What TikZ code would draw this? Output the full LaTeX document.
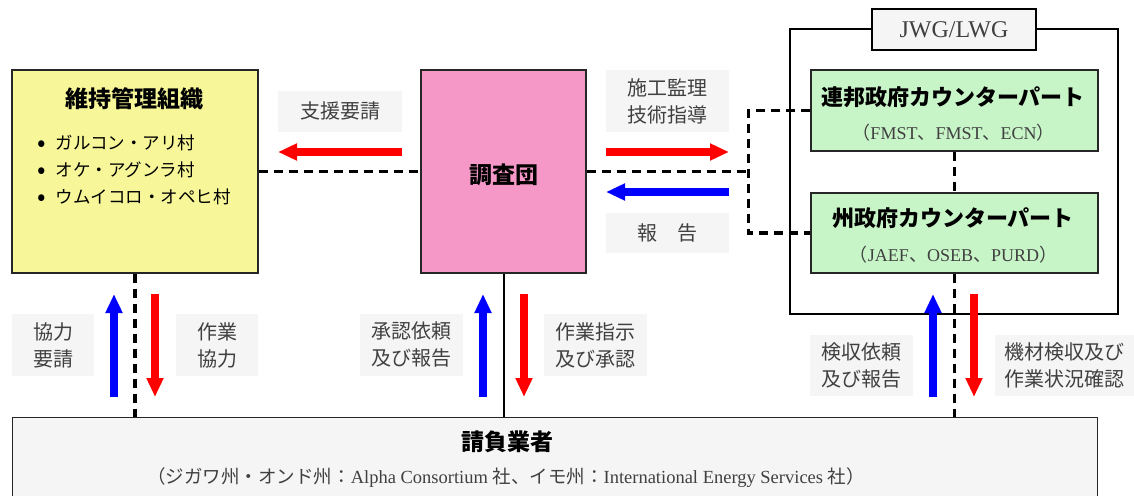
\documentclass[tikz,border=0pt]{standalone}
\usepackage{fontspec}
\setmainfont{Liberation Serif}
\newfontfamily\jp{Noto Sans CJK JP}
\usetikzlibrary{arrows.meta}
\definecolor{yel}{RGB}{247,247,153}
\definecolor{pnk}{RGB}{245,152,200}
\definecolor{grn}{RGB}{200,245,200}
\definecolor{lbl}{RGB}{245,245,245}
\definecolor{txtg}{RGB}{64,64,64}
\newcommand{\bul}{\raisebox{-1.5pt}{\fontsize{25}{25}\selectfont\textbullet}}
\tikzset{
  box/.style={draw=black!85, line width=1.3pt, inner sep=0pt},
  lblbox/.style={fill=lbl, inner sep=0pt, text=txtg, align=center,
    font=\jp\fontsize{20}{27}\selectfont},
  ttl/.style={inner sep=0pt, font=\jp\bfseries\fontsize{23}{27}\selectfont},
  sub/.style={inner sep=0pt, text=txtg, font=\fontsize{18.5}{22}\selectfont},
  item/.style={inner sep=0pt, anchor=west, font=\jp\fontsize{17.5}{20}\selectfont},
  dline/.style={line width=3.5pt, dash pattern=on 9pt off 6pt},
  sline/.style={line width=2pt},
  redarr/.style={draw=red, line width=8pt, -{Triangle[length=19pt,width=16pt]}},
  bluearr/.style={draw=blue, line width=8pt, -{Triangle[length=19pt,width=16pt]}},
}
\begin{document}
\begin{tikzpicture}[x=1pt,y=-1pt]
\useasboundingbox (0,0) rectangle (1134,495);
\fill[white] (0,0) rectangle (1134,495);
\clip (0,0) rectangle (1134,495);

% main boxes
\node[box, fill=yel, minimum width=246pt, minimum height=203pt] (ym) at (135,171.5) {};
\node[ttl] (ytitle) at (134,99) {維持管理組織};
\node[item] (i1) at (37,143) {\bul\hspace{10pt}ガルコン・アリ村};
\node[item] (i2) at (37,170) {\bul\hspace{10pt}オケ・アグンラ村};
\node[item] (i3) at (37,197) {\bul\hspace{10pt}ウムイコロ・オペヒ村};

\node[box, fill=pnk, minimum width=165pt, minimum height=203pt] (ch) at (503.5,171.5) {};
\node[ttl] (chtitle) at (503.5,175) {調査団};

% JWG
\node[draw=black, line width=1.2pt, minimum width=328pt, minimum height=285pt, inner sep=0pt] (jwg) at (954,171.5) {};
\node[draw=black, line width=1.2pt, fill=lbl, minimum width=164pt, minimum height=41pt, inner sep=0pt, text=txtg, font=\fontsize{24}{27}\selectfont] (jwgl) at (954,29.5) {JWG/LWG};

\node[box, fill=grn, minimum width=287pt, minimum height=81pt] (gt) at (954.5,110.5) {};
\node[ttl, font=\jp\bfseries\fontsize{22}{26}\selectfont] (gttitle) at (953,97) {連邦政府カウンターパート};
\node[sub, font=\fontsize{18}{22}\selectfont] (gtsub) at (953.5,133) {{\jp （}FMST{\jp 、}FMST{\jp 、}ECN{\jp ）}};

\node[box, fill=grn, minimum width=287pt, minimum height=80pt] (gb) at (954.5,233) {};
\node[ttl, font=\jp\bfseries\fontsize{22}{26}\selectfont] (gbtitle) at (953,218) {州政府カウンターパート};
\node[sub, font=\fontsize{18}{22}\selectfont] (gbsub) at (953.5,255) {{\jp （}JAEF{\jp 、}OSEB{\jp 、}PURD{\jp ）}};

% contractor
\node[box, fill=lbl, minimum width=1085pt, minimum height=90pt, anchor=north west] (ct) at (12,417) {};
\node[ttl] (cttitle) at (507,442) {請負業者};
\node[sub] (ctsub) at (506,478) {{\jp （ジガワ州・オンド州：}Alpha Consortium {\jp 社、イモ州：}International Energy Services {\jp 社）}};

% labels
\node[lblbox, minimum width=124pt, minimum height=41pt] (l1) at (340,111) {支援要請};
\node[lblbox, minimum width=123pt, minimum height=62pt] (l2) at (667.5,101) {施工監理\\技術指導};
\node[lblbox, minimum width=123pt, minimum height=40pt] (l3) at (667.5,233) {報\hspace{20pt}告};
\node[lblbox, minimum width=82pt, minimum height=62pt] (l4) at (53,345) {協力\\要請};
\node[lblbox, minimum width=82pt, minimum height=62pt] (l5) at (217,345) {作業\\協力};
\node[lblbox, minimum width=103pt, minimum height=62pt] (l6) at (411.5,345) {承認依頼\\及び報告};
\node[lblbox, minimum width=103pt, minimum height=62pt] (l7) at (595.5,345) {作業指示\\及び承認};
\node[lblbox, minimum width=103pt, minimum height=61pt] (l8) at (861.5,365.5) {検収依頼\\及び報告};
\node[lblbox, minimum width=139pt, minimum height=61pt] (l9) at (1064.5,365.5) {機材検収及び\\作業状況確認};

% connectors
\coordinate (br) at (748.5,0);
\draw[dline] (ym.east) -- (ch.west);
\draw[dline] (ch.east) -- (ch.east -| br);
\draw[dline] (gt.west) -- (gt.west -| br) -- (gb.west -| br) -- (gb.west);
\draw[dline] (gt.south) -- (gb.north);
\draw[dline] (gb.south) -- (gb.south |- ct.north);
\draw[dline] (ym.south) -- (ym.south |- ct.north);
\draw[sline] (ch.south) -- (ch.south |- ct.north);

% arrows
\draw[redarr] (402,152) -- (278,152);
\draw[redarr] (606,152) -- (729,152);
\draw[bluearr] (729,192) -- (606,192);
\draw[bluearr] (114,397) -- (114,294);
\draw[redarr] (155,294) -- (155,397);
\draw[bluearr] (483,397) -- (483,294);
\draw[redarr] (524,294) -- (524,397);
\draw[bluearr] (933,397) -- (933,294);
\draw[redarr] (974,294) -- (974,397);
\end{tikzpicture}
\end{document}
